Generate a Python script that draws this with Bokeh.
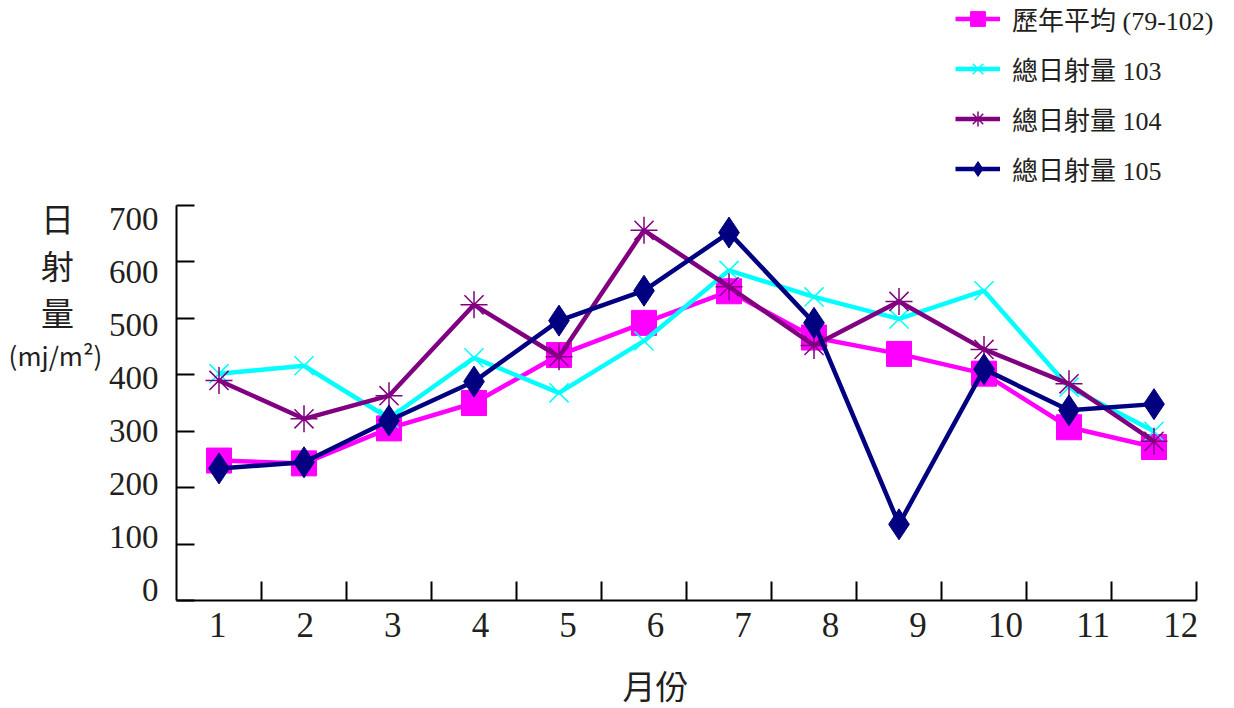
from bokeh.plotting import figure
from bokeh.models import Range1d, LinearAxis, FixedTicker, Legend, LegendItem, Label
from bokeh.embed import file_html
from bokeh.resources import INLINE

# ---------------- data ----------------
months = [1, 2, 3, 4, 5, 6, 7, 8, 9, 10, 11, 12]
month_labels = ["1", "2", "3", "4", "5", "6", "7", "8", "9", "10", "11", "12"]
avg_79_102 = [248, 243, 305, 350, 435, 492, 548, 466, 437, 402, 307, 272]
total_103 = [402, 416, 323, 430, 368, 460, 585, 538, 499, 549, 378, 300]
total_104 = [390, 322, 363, 524, 432, 656, 556, 452, 530, 445, 384, 282]
total_105 = [234, 245, 319, 388, 496, 549, 652, 492, 135, 410, 337, 348]
series_names = ["歷年平均 (79-102)", "總日射量 103", "總日射量 104", "總日射量 105"]
y_ticks = [0, 100, 200, 300, 400, 500, 600, 700]
x_title = "月份"
y_title_chars = ["日", "射", "量"]
y_unit = "(mj/m²)"

SERIF = "Liberation Serif"
CJK = "Noto Sans CJK TC"
TEXT = "#231f20"

# ---------------- layout (pixels) ----------------
W, H = 1234, 708
PX_X0, PX_X1 = 176, 1196      # pixel of x = 0.5 and x = 12.5 (x-axis ends)
PX_Y0, PX_Y1 = 600, 205       # pixel of y = 0 and y = 700 (y-axis ends)
LAB_X1, LAB_XSTEP = 217.3, 87.53   # tick labels of the original sit off the ticks
LAB_Y0, LAB_YSTEP = 589.5, 0.53

kx = (PX_X1 - PX_X0) / 12.0
ky = (PX_Y0 - PX_Y1) / 700.0


def sx(x):
    return PX_X0 + (x - 0.5) * kx


def sy(y):
    return PX_Y0 - y * ky


def lab_x(px):
    return 1 + (px - LAB_X1) / LAB_XSTEP


def lab_y(py):
    return (LAB_Y0 - py) / LAB_YSTEP


def to_xlab(x):
    return lab_x(sx(x))


def to_ylab(y):
    return lab_y(sy(y))


p = figure(width=W, height=H,
           x_range=Range1d(0.5 - PX_X0 / kx, 0.5 + (W - PX_X0) / kx),
           y_range=Range1d(-(H - PX_Y0) / ky, PX_Y0 / ky),
           x_axis_location=None, y_axis_location=None,
           output_backend="svg", toolbar_location=None,
           min_border_left=0, min_border_right=0,
           min_border_top=0, min_border_bottom=0)
p.outline_line_color = None
p.background_fill_color = "white"
p.border_fill_color = "white"
p.xgrid.visible = False
p.ygrid.visible = False
p.grid.visible = False

p.extra_x_ranges = {"lab": Range1d(lab_x(0), lab_x(W))}
p.extra_y_ranges = {"lab": Range1d(lab_y(H), lab_y(0))}

x_bounds = [m + 0.5 for m in months]   # category boundaries carry the tick marks

xl = LinearAxis(x_range_name="lab", fixed_location=0,
                bounds=(to_xlab(0.5), to_xlab(12.5)),
                ticker=FixedTicker(ticks=months, minor_ticks=[to_xlab(b) for b in x_bounds]),
                major_label_overrides={m: s for m, s in zip(months, month_labels)},
                axis_line_color="black", axis_line_width=2,
                major_tick_line_color=None, major_tick_in=0, major_tick_out=0,
                minor_tick_line_color="black", minor_tick_line_width=2,
                minor_tick_in=19, minor_tick_out=0,
                major_label_text_font=SERIF, major_label_text_font_size="35px",
                major_label_text_color=TEXT, major_label_standoff=12)
p.add_layout(xl, "below")

yl = LinearAxis(y_range_name="lab", fixed_location=0.5,
                bounds=(to_ylab(0), to_ylab(700)),
                ticker=FixedTicker(ticks=y_ticks, minor_ticks=[to_ylab(v) for v in y_ticks]),
                axis_line_color="black", axis_line_width=2,
                major_tick_line_color=None, major_tick_in=0, major_tick_out=0,
                minor_tick_line_color="black", minor_tick_line_width=2,
                minor_tick_in=18, minor_tick_out=0,
                major_label_text_font=SERIF, major_label_text_font_size="33px",
                major_label_text_color=TEXT, major_label_standoff=18)
p.add_layout(yl, "left")

# ---------------- series ----------------
items = []
specs = [
    (avg_79_102, "#ff00ff", "square", 25, 1),
    (total_103, "#00ffff", "x", 27, 1.5),
    (total_104, "#800080", "asterisk", 27, 1.5),
    (total_105, "#000080", "diamond", 31, 1),
]
for name, (vals, col, mk, sz, mlw) in zip(series_names, specs):
    rl = p.line(months, vals, line_color=col, line_width=4.5)
    rm = p.scatter(months, vals, marker=mk, size=sz, fill_color=col,
                   line_color=col, line_width=mlw)
    items.append(LegendItem(label=name, renderers=[rl, rm]))

ROW_H, ROW_GAP = 37, 13
LEG_H = 4 * ROW_H + 3 * ROW_GAP
leg = Legend(items=items, location=(955, H - LEG_H), orientation="vertical",
             glyph_width=45, glyph_height=ROW_H, label_height=ROW_H, spacing=ROW_GAP,
             padding=0, margin=0, label_standoff=12,
             border_line_color=None, background_fill_alpha=0,
             label_text_font="Liberation Serif, Noto Sans CJK TC",
             label_text_font_size="26px", label_text_color=TEXT)
p.add_layout(leg)

# ---------------- titles ----------------
for ch, py in zip(y_title_chars, [217, 264, 311]):
    p.add_layout(Label(x=57, y=H - py, x_units="screen", y_units="screen", text=ch,
                       text_align="center", text_baseline="middle",
                       text_font=CJK, text_font_size="33px", text_color=TEXT))
p.add_layout(Label(x=55, y=H - 354, x_units="screen", y_units="screen", text=y_unit,
                   text_align="center", text_baseline="middle",
                   text_font=CJK, text_font_size="26px", text_color=TEXT))
p.add_layout(Label(x=655, y=H - 684, x_units="screen", y_units="screen", text=x_title,
                   text_align="center", text_baseline="middle",
                   text_font=CJK, text_font_size="33px", text_color=TEXT))

open("out.html", "w").write(file_html(p, INLINE))
